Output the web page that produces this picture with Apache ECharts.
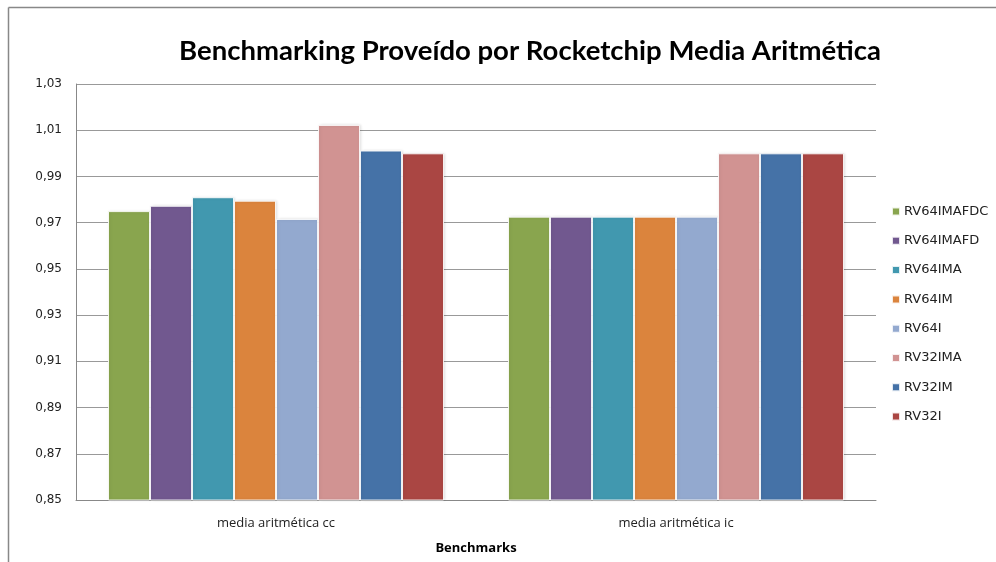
<!DOCTYPE html>
<html>
<head>
<meta charset="utf-8">
<script src="https://cdn.jsdelivr.net/npm/echarts@6/dist/echarts.min.js"></script>
<style>html,body{margin:0;padding:0;background:#fff}#c{width:996px;height:562px}</style>
</head>
<body>
<div id="c"></div>
<script>
const categories = ['media aritmética cc', 'media aritmética ic'];
const seriesNames = ['RV64IMAFDC', 'RV64IMAFD', 'RV64IMA', 'RV64IM', 'RV64I', 'RV32IMA', 'RV32IM', 'RV32I'];
const RV64IMAFDC = [0.975, 0.9726];
const RV64IMAFD = [0.9773, 0.9726];
const RV64IMA = [0.981, 0.9726];
const RV64IM = [0.9795, 0.9726];
const RV64I = [0.9716, 0.9726];
const RV32IMA = [1.0123, 1.0];
const RV32IM = [1.0012, 1.0];
const RV32I = [1.0, 1.0];
const yTicks = [0.85, 0.87, 0.89, 0.91, 0.93, 0.95, 0.97, 0.99, 1.01, 1.03];
const colors = ['#89A54E', '#71588F', '#4198AF', '#DB843D', '#93A9CF', '#D19392', '#4572A7', '#AA4643'];
const values = [RV64IMAFDC, RV64IMAFD, RV64IMA, RV64IM, RV64I, RV32IMA, RV32IM, RV32I];

const chart = echarts.init(document.getElementById('c'));
chart.setOption({
  animation: false,
  color: colors,
  title: {
    text: 'Benchmarking Proveído por Rocketchip Media Aritmética',
    left: 525, top: 32, textAlign: 'center',
    textStyle: { fontFamily: 'Lato', fontWeight: 'bold', fontSize: 27.5, color: '#000' }
  },
  legend: {
    orient: 'vertical', left: 886, top: 200,
    itemWidth: 8, itemHeight: 8, itemGap: 16.3,
    icon: 'rect',
    data: seriesNames,
    textStyle: { fontFamily: 'DejaVu Sans', fontSize: 13, color: '#222', padding: [0, 0, 0, -1] }
  },
  grid: { left: 76, right: 120, top: 84, bottom: 62, containLabel: false },
  xAxis: {
    type: 'category', data: categories,
    name: 'Benchmarks', nameLocation: 'middle', nameGap: 42,
    nameTextStyle: { fontFamily: 'Open Sans', fontWeight: 'bold', fontSize: 13, color: '#000' },
    axisLine: { lineStyle: { color: '#888', width: 1 } },
    axisTick: { show: false },
    axisLabel: { fontFamily: 'Open Sans', fontSize: 13, color: '#222', margin: 17 }
  },
  yAxis: {
    type: 'value', min: 0.85, max: 1.03, interval: 0.02,
    axisLine: { show: true, lineStyle: { color: '#888' } },
    axisTick: { show: false },
    splitLine: { lineStyle: { color: '#999' } },
    axisLabel: {
      fontFamily: 'DejaVu Sans', fontSize: 12, color: '#222', margin: 14,
      formatter: v => {
        const t = yTicks.find(x => Math.abs(x - v) < 1e-9);
        return (t !== undefined ? t : v).toFixed(2).replace('.', ',');
      }
    }
  },
  series: seriesNames.map((n, i) => ({
    name: n, type: 'bar', data: values[i],
    barGap: '0%', barCategoryGap: '16%',
    itemStyle: { color: colors[i], borderColor: 'rgba(255,255,255,0.85)', borderWidth: 1,
      shadowColor: 'rgba(0,0,0,0.12)', shadowBlur: 3, shadowOffsetX: 1, shadowOffsetY: 0 }
  })),
  graphic: [
    { type: 'line', shape: { x1: 8.5, y1: 7.5, x2: 996, y2: 7.5 }, style: { stroke: '#888', lineWidth: 1.5 } },
    { type: 'line', shape: { x1: 8.5, y1: 7.5, x2: 8.5, y2: 562 }, style: { stroke: '#888', lineWidth: 1.5 } }
  ]
});
</script>
</body>
</html>
